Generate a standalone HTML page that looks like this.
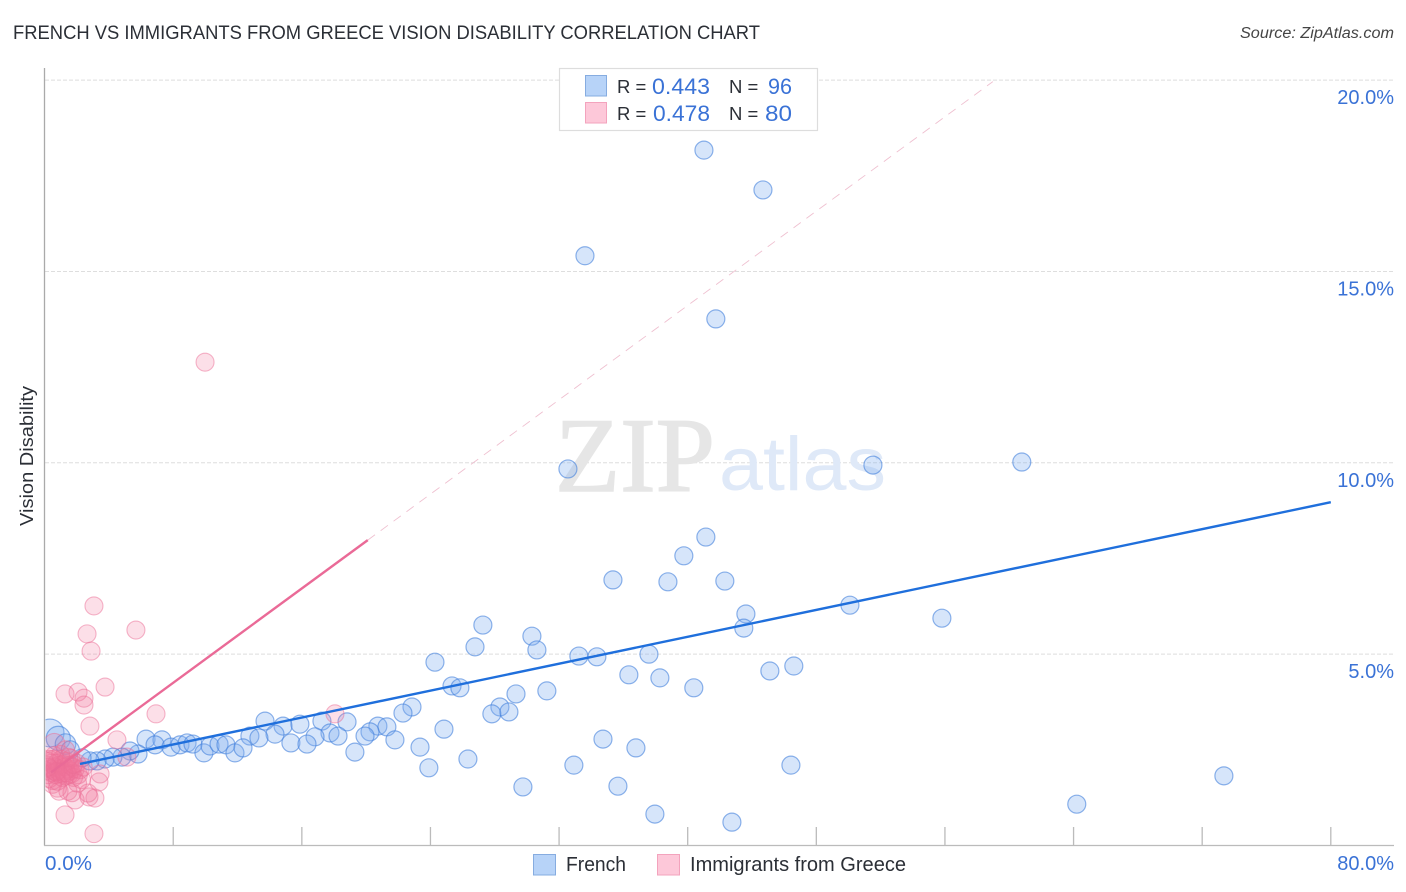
<!DOCTYPE html>
<html lang="en">
<head>
<meta charset="utf-8">
<title>French vs Immigrants from Greece Vision Disability Correlation Chart</title>
<style>
html,body{margin:0;padding:0;background:#fff;width:1406px;height:892px;overflow:hidden}
svg{display:block;font-family:"Liberation Sans",sans-serif}
</style>
</head>
<body>
<svg id="chart" width="1406" height="892" viewBox="0 0 1406 892" xmlns="http://www.w3.org/2000/svg">
<defs><clipPath id="plot-clip"><rect x="45.5" y="68" width="1350" height="777"/></clipPath></defs>
<text x="13" y="39" font-size="19" fill="#2b2f36" textLength="747" lengthAdjust="spacingAndGlyphs">FRENCH VS IMMIGRANTS FROM GREECE VISION DISABILITY CORRELATION CHART</text>
<text x="1394" y="38" font-size="15.5" font-style="italic" fill="#444" text-anchor="end" textLength="154" lengthAdjust="spacingAndGlyphs">Source: ZipAtlas.com</text>
<g id="grid"></g>
<text x="555" y="491" font-family="'Liberation Serif',serif" font-size="106" fill="#e6e6e6" stroke="#e6e6e6" stroke-width="1.5" textLength="160" lengthAdjust="spacingAndGlyphs">ZIP</text>
<text x="719" y="490" font-size="76" fill="#dfe9f8" textLength="167" lengthAdjust="spacingAndGlyphs">atlas</text>
<g id="marks" clip-path="url(#plot-clip)"></g>
<line x1="44.5" y1="68" x2="44.5" y2="845.5" stroke="#aaa" stroke-width="1.3"/>
<line x1="44" y1="845.5" x2="1394" y2="845.5" stroke="#bbb" stroke-width="1.3"/>
<g id="axes"></g>
<text transform="translate(33,456) rotate(-90)" font-size="18" fill="#2b2f36" text-anchor="middle" textLength="140" lengthAdjust="spacingAndGlyphs">Vision Disability</text>
<g>
<rect x="559.5" y="68.5" width="258" height="62" fill="#fff" stroke="#ddd" stroke-width="1.2"/>
<rect x="585.5" y="75.5" width="21" height="20.5" fill="#b7d3f8" stroke="#86ace0"/>
<rect x="585.5" y="102.5" width="21" height="20.5" fill="#fdc8d9" stroke="#f3a3bd"/>
<text x="617" y="93" font-size="18.5" fill="#2b2f36">R =</text>
<text x="652" y="94" font-size="22" fill="#3a72d6" textLength="58" lengthAdjust="spacingAndGlyphs">0.443</text>
<text x="729" y="93" font-size="18.5" fill="#2b2f36">N =</text>
<text x="768" y="94" font-size="22" fill="#3a72d6" textLength="24" lengthAdjust="spacingAndGlyphs">96</text>
<text x="617" y="120" font-size="18.5" fill="#2b2f36">R =</text>
<text x="653" y="121" font-size="22" fill="#3a72d6" textLength="57" lengthAdjust="spacingAndGlyphs">0.478</text>
<text x="729" y="120" font-size="18.5" fill="#2b2f36">N =</text>
<text x="765" y="121" font-size="22" fill="#3a72d6" textLength="27" lengthAdjust="spacingAndGlyphs">80</text>
</g>
<g>
<rect x="533.5" y="854.5" width="22" height="20.5" fill="#b7d3f8" stroke="#86ace0"/>
<text x="566" y="871" font-size="20" fill="#2b2f36" textLength="60" lengthAdjust="spacingAndGlyphs">French</text>
<rect x="657.5" y="854.5" width="22" height="20.5" fill="#fdc8d9" stroke="#f3a3bd"/>
<text x="690" y="871" font-size="20" fill="#2b2f36" textLength="216" lengthAdjust="spacingAndGlyphs">Immigrants from Greece</text>
</g>
</svg>
<script>
const frenchX = [0.34,0.85,1.3,41.01,44.68,33.61,41.75,32.55,51.52,60.78,41.13,39.76,35.35,38.77,42.31,43.62,50.09,55.81,43.49,27.26,30.31,26.77,30.62,33.23,34.35,37.59,24.28,46.6,45.11,36.34,38.27,40.38,25.34,25.83,31.24,29.32,22.85,22.29,28.32,27.82,28.88,13.71,14.83,15.88,17.25,18.81,20.73,21.29,24.84,20.24,17.75,18.25,16.82,14.33,12.77,13.33,15.32,16.32,19.93,21.79,19.3,23.35,34.73,36.78,26.33,23.9,32.92,46.42,29.75,35.66,37.96,42.75,64.2,73.35,6.31,7.3,6.87,7.86,8.42,8.86,9.23,9.91,10.29,10.85,11.28,11.84,12.34,5.81,5.31,4.81,4.25,3.76,3.26,2.82,2.33,1.6];
const frenchY = [2.94,2.8,2.65,18.17,17.13,15.41,13.76,9.84,9.94,10.02,8.06,7.57,6.94,6.89,6.91,6.05,6.28,5.94,5.68,5.76,5.47,5.19,5.11,4.95,4.93,5.0,4.79,4.69,4.56,4.46,4.38,4.12,4.17,4.12,4.04,3.96,3.62,3.46,3.62,3.44,3.49,3.25,3.12,3.17,3.25,3.23,3.12,3.1,3.04,2.97,2.94,2.86,2.84,2.91,2.86,2.81,2.68,2.65,2.86,2.76,2.44,2.57,2.78,2.55,2.26,2.03,2.1,2.1,1.53,1.55,0.82,0.61,1.08,1.82,2.78,2.76,2.63,2.57,2.63,2.68,2.65,2.42,2.6,2.65,2.63,2.42,2.55,2.39,2.47,2.31,2.31,2.26,2.21,2.21,2.29,2.5];
const frenchWeight = [2.4,1.8,1.3];
const greeceX = [9.98,3.07,5.68,2.64,2.89,1.27,2.08,2.45,2.45,3.76,2.82,6.93,4.5,18.06,5.12,1.27,3.07,3.13,2.76,2.7,3.38,3.45,1.9,1.7,0.8,1.45,0.5,2.05,0.9,0.6,1.3,0.1,0.15,0.22,0.25,0.3,0.35,0.4,0.45,0.5,0.55,0.6,0.65,0.7,0.75,0.8,0.85,0.9,0.95,1.0,1.05,1.1,1.15,1.2,1.25,1.3,1.35,1.4,1.45,1.5,1.55,1.6,1.65,1.7,1.75,1.8,1.9,2.0,2.1,2.2,2.3,2.4,0.6,1.0,1.5,0.3,0.7,1.2,1.8,0.2];
const greeceY = [12.63,6.26,5.63,5.53,5.08,3.96,4.01,3.85,3.67,4.14,3.12,3.44,2.76,3.44,2.31,0.8,0.31,1.24,1.27,1.37,1.66,1.87,1.19,1.38,1.5,1.42,1.6,1.63,1.42,2.65,2.5,1.95,2.1,1.85,2.2,1.75,2.0,2.15,1.9,1.7,2.25,1.95,2.05,1.85,2.15,1.68,1.95,2.1,2.0,1.88,2.25,1.78,2.12,1.95,2.05,1.82,2.2,1.9,2.0,1.85,2.1,1.95,2.28,1.88,2.05,1.78,2.0,2.15,1.85,1.98,1.72,2.05,2.35,2.38,2.3,2.25,1.92,1.9,2.12,2.05];
const greeceWeight = [1,1,1,1,1,1,1,1,1,1,1,1,1,1,1,1,1,1,1,1,1,1,1,1,1,1,1,1,1,1.4];
const xTicks = [0,8,16,24,32,40,48,56,64,72,80];
const yTicks = [5,10,15,20];
const yTickLabels = ["5.0%","10.0%","15.0%","20.0%"];
const xEndLabels = ["0.0%","80.0%"];
const frenchTrendX = [2.2,80];
const frenchTrendY = [2.13,8.97];
const greeceTrendX = [0.4,20.1];
const greeceTrendY = [1.91,7.98];
const greeceDashX = [20.1,58.98];
const greeceDashY = [7.98,19.96];

const NS = 'http://www.w3.org/2000/svg';
const sx = v => 44.6 + v * 16.0775;
const sy = v => 845.5 - v * 38.27;
const sr = w => 9 * Math.sqrt(w);
const grid = document.getElementById('grid');
const marks = document.getElementById('marks');
const axes = document.getElementById('axes');

function node(tag, parent, attrs) {
  const el = document.createElementNS(NS, tag);
  for (const k in attrs) el.setAttribute(k, attrs[k]);
  parent.appendChild(el);
  return el;
}

yTicks.forEach((t, i) => {
  const g = node('line', grid, {x1: 45, x2: 1394, y1: sy(t), y2: sy(t), stroke: '#dedede', 'stroke-width': 1, 'stroke-dasharray': '4 2'});
  
  
  const l = node('text', axes, {x: 1394, y: sy(t) + 24, 'font-size': 20, fill: '#3a72d6', 'text-anchor': 'end'});
  l.textContent = yTickLabels[i];
  
  
});

xTicks.slice(1).forEach(t => {
  const k = node('line', axes, {x1: sx(t), x2: sx(t), y1: 827, y2: 845, stroke: '#bbb', 'stroke-width': 1.3});
  
  
});

const x0 = node('text', axes, {x: 45, y: 870, 'font-size': 20, fill: '#3a72d6', textLength: 47, lengthAdjust: 'spacingAndGlyphs'});
x0.textContent = xEndLabels[0];


const x1 = node('text', axes, {x: 1394, y: 870, 'font-size': 20, fill: '#3a72d6', 'text-anchor': 'end'});
x1.textContent = xEndLabels[1];



frenchX.forEach((v, i) => {
  const c = node('circle', marks, {cx: sx(v), cy: sy(frenchY[i]), r: sr(frenchWeight[i] || 1), fill: 'rgba(129,175,238,0.32)', stroke: 'rgba(66,128,220,0.6)', 'stroke-width': 1.2});
  
  
});
greeceX.forEach((v, i) => {
  const c = node('circle', marks, {cx: sx(v), cy: sy(greeceY[i]), r: sr(greeceWeight[i] || 1), fill: 'rgba(240,115,155,0.23)', stroke: 'rgba(236,110,150,0.5)', 'stroke-width': 1.1});
  
  
});

const dash = node('line', marks, {x1: sx(greeceDashX[0]), y1: sy(greeceDashY[0]), x2: sx(greeceDashX[1]), y2: sy(greeceDashY[1]), stroke: '#efc0d0', 'stroke-width': 0.9, 'stroke-dasharray': '9 7'});


const pinkTrend = node('line', marks, {x1: sx(greeceTrendX[0]), y1: sy(greeceTrendY[0]), x2: sx(greeceTrendX[1]), y2: sy(greeceTrendY[1]), stroke: '#ea6a97', 'stroke-width': 2.4});


const blueTrend = node('line', marks, {x1: sx(frenchTrendX[0]), y1: sy(frenchTrendY[0]), x2: sx(frenchTrendX[1]), y2: sy(frenchTrendY[1]), stroke: '#1f6fdc', 'stroke-width': 2.4});


</script>
</body>
</html>
